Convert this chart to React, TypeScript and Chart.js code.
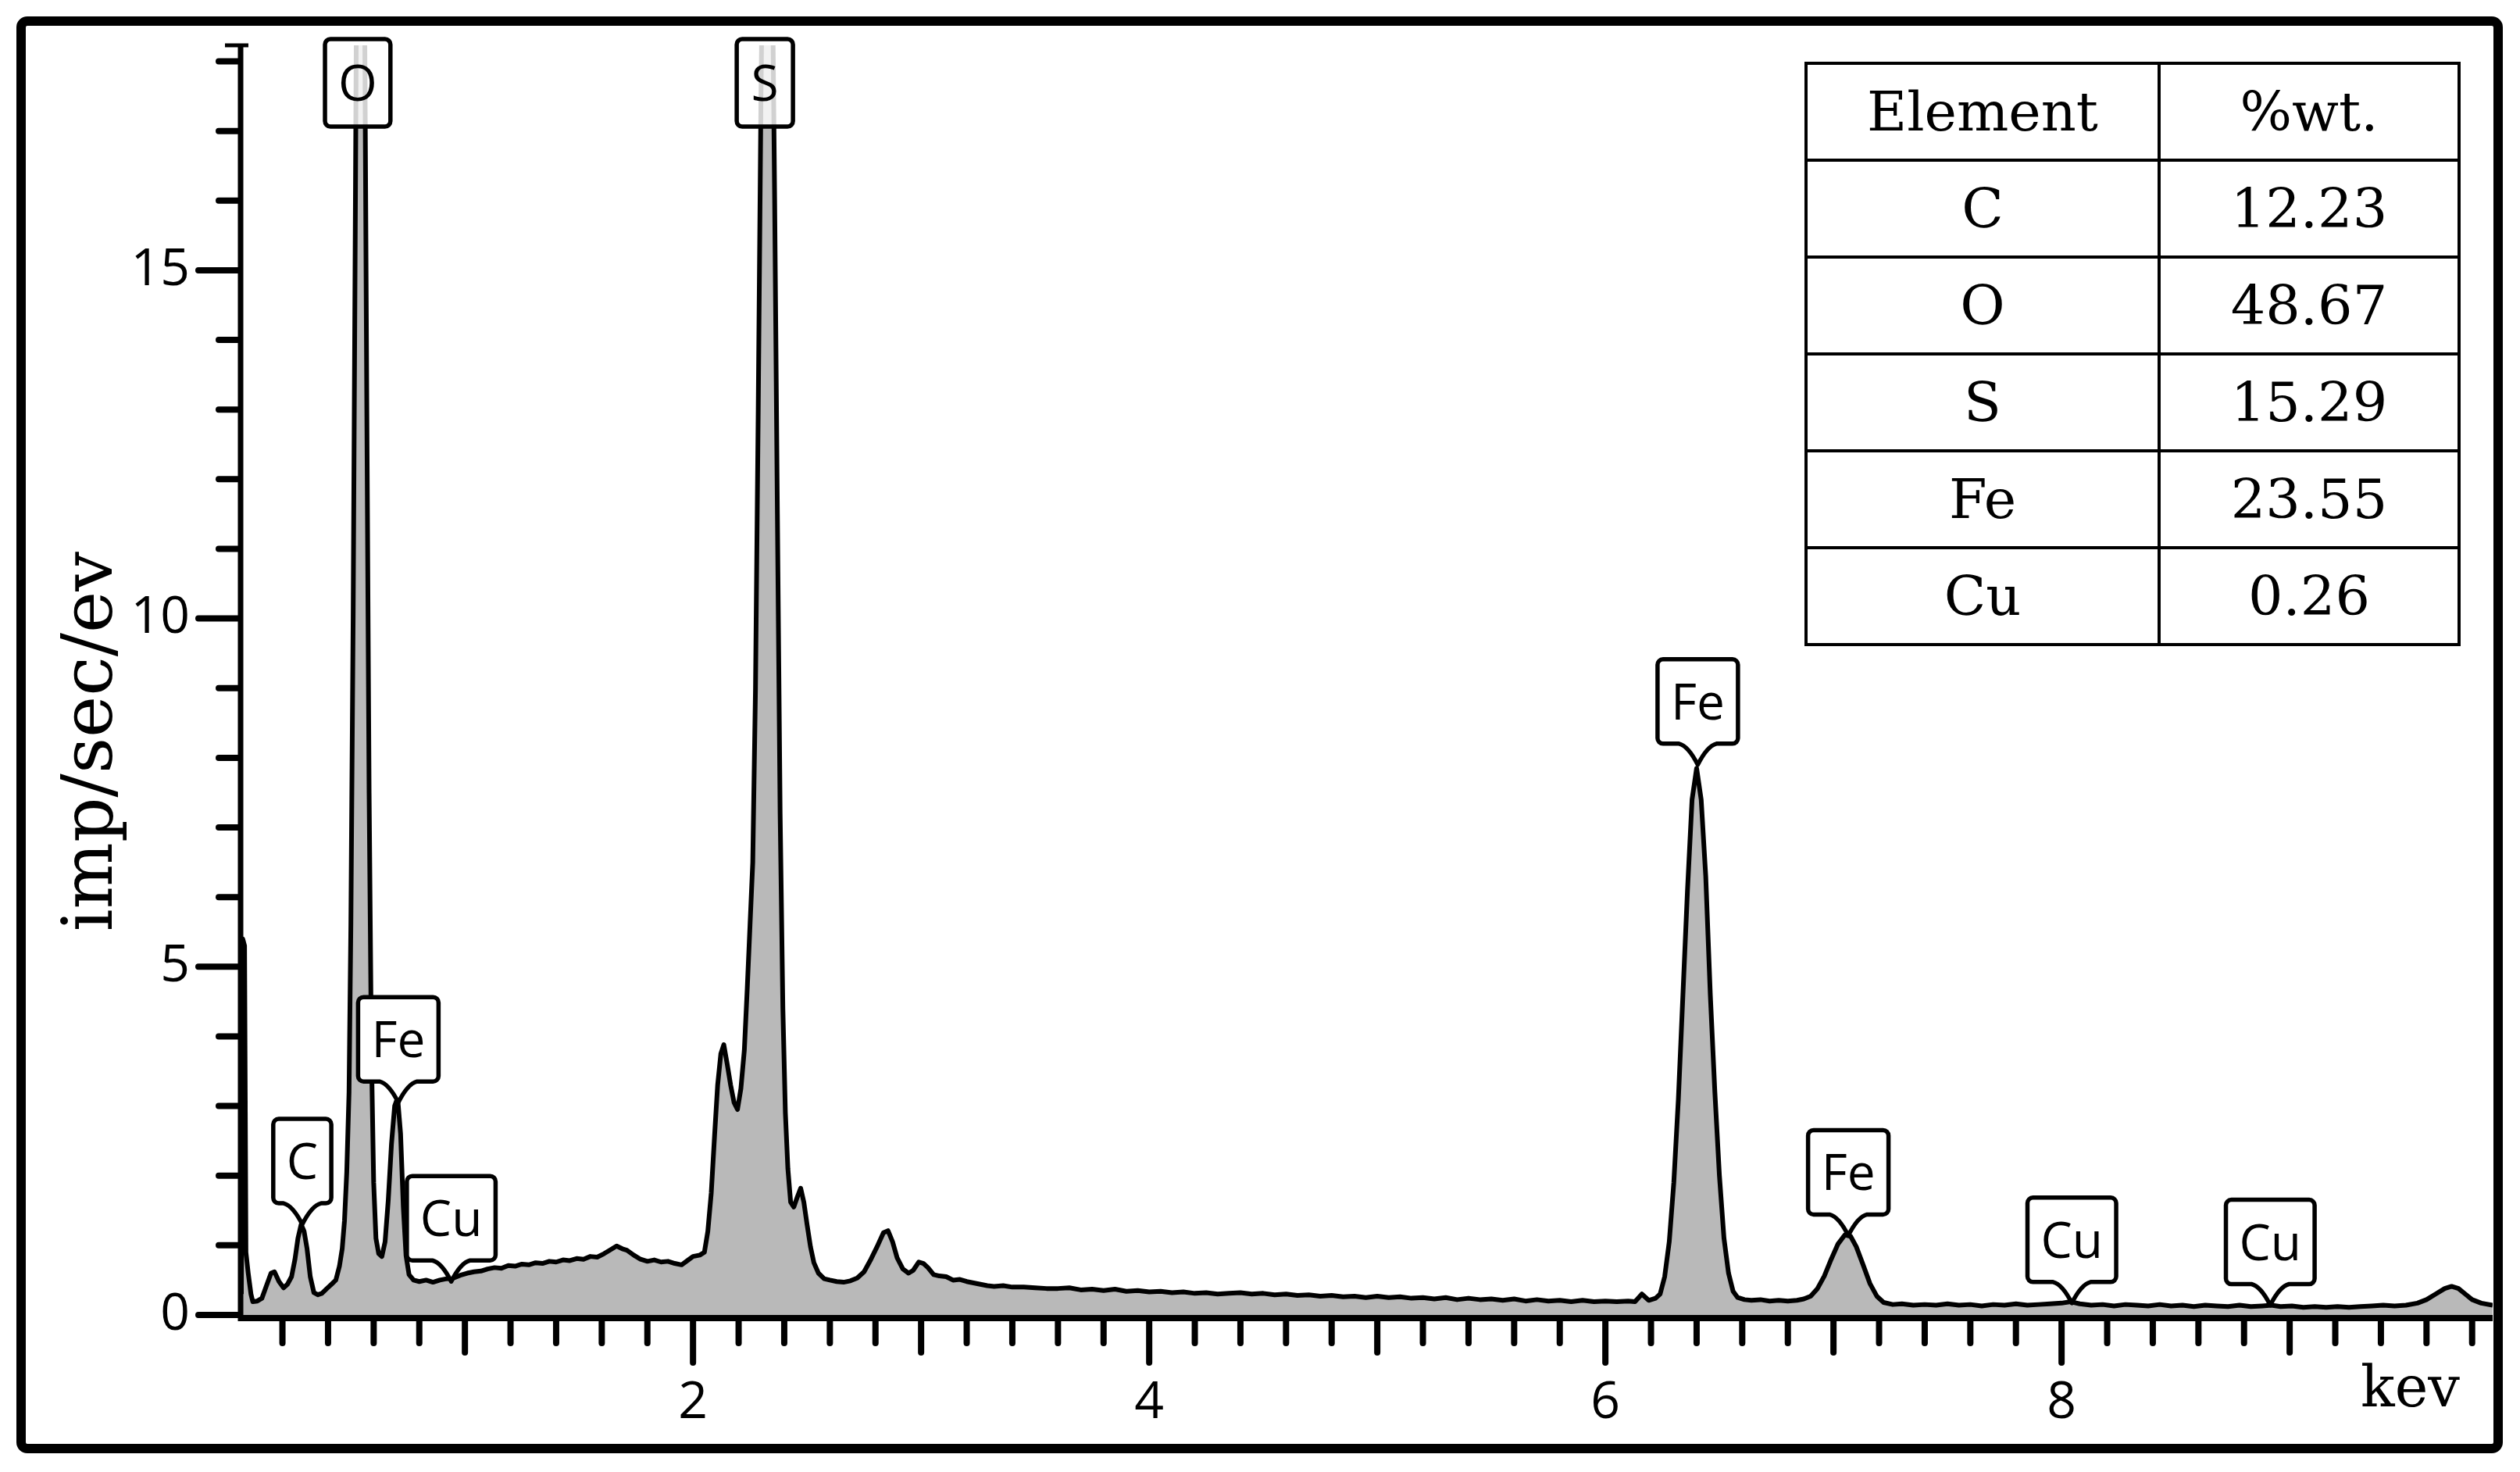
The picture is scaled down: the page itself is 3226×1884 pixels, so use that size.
import React, { useEffect, useRef } from 'react';
import { Chart, registerables } from 'chart.js';

Chart.register(...registerables);

// ---------------- data ----------------
// EDS spectrum: energy (keV) and intensity (imp/sec/ev)
const energyKeV = [
  0.020, 0.026, 0.034, 0.040, 0.050, 0.062, 0.070, 0.090, 0.110, 0.130,
  0.150, 0.165, 0.185, 0.205, 0.222, 0.240, 0.255, 0.268, 0.282, 0.295,
  0.308, 0.322, 0.338, 0.355, 0.373, 0.395, 0.415, 0.434, 0.450, 0.462,
  0.472, 0.482, 0.492, 0.500, 0.510, 0.520, 0.530, 0.540, 0.550, 0.560,
  0.570, 0.580, 0.590, 0.600, 0.610, 0.622, 0.636, 0.650, 0.664, 0.678,
  0.692, 0.705, 0.718, 0.730, 0.742, 0.755, 0.775, 0.800, 0.830, 0.860,
  0.890, 0.920, 0.950, 0.980, 1.010, 1.040, 1.070, 1.100, 1.130, 1.160,
  1.190, 1.220, 1.250, 1.280, 1.310, 1.340, 1.370, 1.400, 1.430, 1.460,
  1.490, 1.520, 1.550, 1.580, 1.610, 1.640, 1.665, 1.690, 1.710, 1.740,
  1.770, 1.800, 1.830, 1.860, 1.890, 1.920, 1.950, 1.975, 2.000, 2.030,
  2.050, 2.065, 2.080, 2.095, 2.108, 2.122, 2.135, 2.150, 2.165, 2.180,
  2.195, 2.210, 2.225, 2.238, 2.250, 2.262, 2.274, 2.286, 2.298, 2.310,
  2.322, 2.334, 2.346, 2.358, 2.370, 2.382, 2.394, 2.405, 2.416, 2.428,
  2.442, 2.458, 2.472, 2.486, 2.500, 2.515, 2.530, 2.550, 2.575, 2.600,
  2.630, 2.660, 2.690, 2.720, 2.750, 2.780, 2.810, 2.835, 2.855, 2.875,
  2.895, 2.920, 2.945, 2.965, 2.990, 3.010, 3.030, 3.055, 3.080, 3.110,
  3.140, 3.170, 3.200, 3.230, 3.260, 3.290, 3.320, 3.360, 3.400, 3.450,
  3.500, 3.550, 3.600, 3.650, 3.700, 3.750, 3.800, 3.850, 3.900, 3.950,
  4.000, 4.050, 4.100, 4.150, 4.200, 4.250, 4.300, 4.350, 4.400, 4.450,
  4.500, 4.550, 4.600, 4.650, 4.700, 4.750, 4.800, 4.850, 4.900, 4.950,
  5.000, 5.050, 5.100, 5.150, 5.200, 5.250, 5.300, 5.350, 5.400, 5.450,
  5.500, 5.550, 5.600, 5.650, 5.700, 5.750, 5.800, 5.850, 5.900, 5.950,
  6.000, 6.050, 6.100, 6.130, 6.160, 6.190, 6.220, 6.240, 6.260, 6.280,
  6.300, 6.320, 6.340, 6.360, 6.380, 6.400, 6.420, 6.440, 6.460, 6.480,
  6.500, 6.520, 6.540, 6.560, 6.580, 6.610, 6.640, 6.680, 6.720, 6.760,
  6.800, 6.840, 6.870, 6.900, 6.930, 6.960, 6.990, 7.020, 7.050, 7.075,
  7.100, 7.130, 7.160, 7.190, 7.220, 7.260, 7.300, 7.350, 7.400, 7.450,
  7.500, 7.550, 7.600, 7.650, 7.700, 7.750, 7.800, 7.850, 7.900, 7.950,
  8.000, 8.040, 8.080, 8.130, 8.180, 8.230, 8.280, 8.330, 8.380, 8.430,
  8.480, 8.530, 8.580, 8.630, 8.680, 8.730, 8.780, 8.830, 8.880, 8.920,
  8.960, 9.010, 9.060, 9.110, 9.160, 9.210, 9.260, 9.310, 9.360, 9.410,
  9.460, 9.510, 9.560, 9.600, 9.640, 9.680, 9.710, 9.740, 9.770, 9.800,
  9.840, 9.890,
];

const intensity = [
  0.30, 5.40, 5.30, 0.90, 0.60, 0.30, 0.19, 0.20, 0.24, 0.42,
  0.60, 0.62, 0.48, 0.39, 0.44, 0.55, 0.80, 1.10, 1.30, 1.20,
  0.95, 0.55, 0.32, 0.29, 0.31, 0.38, 0.44, 0.50, 0.70, 0.95,
  1.35, 2.05, 3.20, 5.60, 10.0, 16.0, 22.5, 27.0, 25.0, 19.0,
  13.0, 7.50, 3.80, 1.90, 1.10, 0.88, 0.84, 1.05, 1.65, 2.45,
  3.00, 3.12, 2.60, 1.55, 0.85, 0.58, 0.50, 0.48, 0.50, 0.47,
  0.50, 0.52, 0.53, 0.57, 0.60, 0.62, 0.63, 0.66, 0.68, 0.67,
  0.71, 0.70, 0.73, 0.72, 0.75, 0.74, 0.77, 0.76, 0.79, 0.78,
  0.81, 0.80, 0.84, 0.83, 0.88, 0.94, 0.99, 0.95, 0.93, 0.86,
  0.80, 0.77, 0.79, 0.76, 0.77, 0.74, 0.72, 0.78, 0.84, 0.86,
  0.90, 1.20, 1.75, 2.60, 3.30, 3.75, 3.88, 3.60, 3.30, 3.05,
  2.95, 3.25, 3.80, 4.70, 5.60, 6.50, 9.00, 13.0, 17.5, 21.0,
  23.0, 22.5, 20.0, 16.0, 11.5, 7.20, 4.40, 2.90, 2.10, 1.62,
  1.55, 1.70, 1.82, 1.62, 1.30, 0.98, 0.75, 0.60, 0.52, 0.50,
  0.48, 0.47, 0.49, 0.53, 0.62, 0.80, 1.00, 1.18, 1.21, 1.05,
  0.82, 0.66, 0.60, 0.64, 0.76, 0.74, 0.68, 0.58, 0.56, 0.55,
  0.50, 0.51, 0.48, 0.46, 0.44, 0.42, 0.41, 0.42, 0.40, 0.40,
  0.39, 0.38, 0.38, 0.39, 0.36, 0.37, 0.35, 0.37, 0.34, 0.35,
  0.33, 0.34, 0.32, 0.33, 0.31, 0.32, 0.30, 0.31, 0.32, 0.30,
  0.31, 0.29, 0.30, 0.28, 0.29, 0.27, 0.28, 0.26, 0.27, 0.25,
  0.27, 0.25, 0.26, 0.24, 0.25, 0.23, 0.25, 0.22, 0.24, 0.22,
  0.23, 0.21, 0.23, 0.20, 0.22, 0.20, 0.21, 0.19, 0.21, 0.19,
  0.20, 0.19, 0.20, 0.19, 0.30, 0.21, 0.24, 0.30, 0.55, 1.05,
  1.90, 3.10, 4.60, 6.10, 7.40, 7.85, 7.40, 6.30, 4.60, 3.20,
  2.00, 1.10, 0.60, 0.34, 0.25, 0.22, 0.21, 0.22, 0.20, 0.21,
  0.20, 0.21, 0.23, 0.27, 0.38, 0.56, 0.80, 1.02, 1.15, 1.13,
  0.98, 0.72, 0.45, 0.27, 0.18, 0.15, 0.16, 0.14, 0.15, 0.14,
  0.16, 0.14, 0.15, 0.13, 0.15, 0.14, 0.16, 0.14, 0.15, 0.16,
  0.17, 0.19, 0.16, 0.14, 0.15, 0.13, 0.15, 0.14, 0.13, 0.15,
  0.13, 0.14, 0.12, 0.14, 0.13, 0.12, 0.14, 0.12, 0.13, 0.14,
  0.12, 0.13, 0.11, 0.12, 0.11, 0.12, 0.11, 0.12, 0.13, 0.14,
  0.13, 0.14, 0.17, 0.22, 0.30, 0.38, 0.41, 0.38, 0.30, 0.22,
  0.17, 0.14,
];

// axes
const xMin = 0.02;
const xMax = 9.89;
const yMin = 0;
const yMax = 18.23;
const xTickValues = [2, 4, 6, 8];
const yTickValues = [0, 5, 10, 15];
const xMinorStep = 0.2;
const yMinorStep = 1;
const yAxisTitle = 'imp/sec/ev';
const xAxisUnit = 'kev';

// peak labels (null tip = peak runs off the top, label sits at the top)
const peakNames = ['C', 'O', 'Fe', 'Cu', 'S', 'Fe', 'Fe', 'Cu', 'Cu'];
const peakEnergies = [0.287, 0.53, 0.708, 0.94, 2.315, 6.405, 7.065, 8.045, 8.915];
const peakTips: (number | null)[] = [1.3, null, 3.05, 0.48, null, 7.9, 1.14, 0.17, 0.14];

// composition table
const tableHeader = ['Element', '%wt.'];
const tableElements = ['C', 'O', 'S', 'Fe', 'Cu'];
const tableWeights = [12.23, 48.67, 15.29, 23.55, 0.26];

// ---------------- styling ----------------
const W = 3226;
const H = 1884;
const SANS = '"Open Sans", "DejaVu Sans", sans-serif';
const SERIF = '"DejaVu Serif", "Liberation Serif", serif';

const spectrumPoints = energyKeV.map((e, i) => ({ x: e, y: intensity[i] }));

function calloutPath(ctx: CanvasRenderingContext2D, left: number, top: number, right: number, bottom: number, cx: number, tipY: number | null) {
  const r = 7;
  ctx.beginPath();
  ctx.moveTo(left + r, top);
  ctx.lineTo(right - r, top);
  ctx.arcTo(right, top, right, top + r, r);
  ctx.lineTo(right, bottom - r);
  ctx.arcTo(right, bottom, right - r, bottom, r);
  if (tipY !== null) {
    ctx.lineTo(cx + 24, bottom);
    ctx.quadraticCurveTo(cx + 12, bottom + 3, cx, tipY);
    ctx.quadraticCurveTo(cx - 12, bottom + 3, cx - 24, bottom);
  }
  ctx.lineTo(left + r, bottom);
  ctx.arcTo(left, bottom, left, bottom - r, r);
  ctx.lineTo(left, top + r);
  ctx.arcTo(left, top, left + r, top, r);
  ctx.closePath();
}

const calloutPlugin = {
  id: 'peakCallouts',
  afterDatasetsDraw(chart: any) {
    const { ctx, chartArea } = chart;
    const xs = chart.scales.x;
    const ys = chart.scales.y;
    ctx.save();
    ctx.font = `64px ${SANS}`;
    ctx.lineJoin = 'round';
    for (let i = 0; i < peakNames.length; i++) {
      const name = peakNames[i];
      const cx = xs.getPixelForValue(peakEnergies[i]);
      const tw = ctx.measureText(name).width;
      const w = Math.max(tw + 34, 72);
      const left = cx - w / 2;
      const right = cx + w / 2;
      const tip = peakTips[i];
      let top: number;
      let bottom: number;
      let tipY: number | null = null;
      if (tip === null) {
        top = chartArea.top - 8;
        bottom = top + 112;
        calloutPath(ctx, left, top, right, bottom, cx, null);
        ctx.fillStyle = 'rgba(255,255,255,0.82)';
      } else {
        tipY = ys.getPixelForValue(tip);
        bottom = tipY - 27;
        top = bottom - 108;
        calloutPath(ctx, left, top, right, bottom, cx, tipY);
        ctx.fillStyle = '#ffffff';
      }
      ctx.fill();
      ctx.lineWidth = 5.5;
      ctx.strokeStyle = '#000';
      ctx.stroke();
      ctx.fillStyle = '#000';
      ctx.textAlign = 'center';
      ctx.textBaseline = 'alphabetic';
      ctx.fillText(name, cx, (top + bottom) / 2 + 23);
    }
    ctx.restore();
  },
};

const axesPlugin = {
  id: 'edsAxes',
  afterDraw(chart: any) {
    const { ctx, chartArea } = chart;
    const xs = chart.scales.x;
    const ys = chart.scales.y;
    const axisX = 308;
    const axisY = chartArea.bottom + 4;
    ctx.save();
    ctx.strokeStyle = '#000';
    ctx.lineCap = 'butt';

    // y axis line + top cap
    ctx.lineWidth = 7;
    ctx.beginPath();
    ctx.moveTo(axisX, chartArea.top - 2);
    ctx.lineTo(axisX, axisY + 4);
    ctx.stroke();
    ctx.lineWidth = 5;
    ctx.beginPath();
    ctx.moveTo(axisX - 20, chartArea.top);
    ctx.lineTo(axisX + 10, chartArea.top);
    ctx.stroke();

    // x axis line
    ctx.lineWidth = 8;
    ctx.beginPath();
    ctx.moveTo(axisX - 3, axisY);
    ctx.lineTo(chartArea.right, axisY);
    ctx.stroke();

    // x ticks
    ctx.lineWidth = 8;
    ctx.lineCap = 'round';
    const nX = Math.floor((xMax + 1e-9) / xMinorStep);
    for (let i = 1; i <= nX; i++) {
      const v = i * xMinorStep;
      const px = xs.getPixelForValue(v);
      const k = Math.round(v * 10);
      let len = 32;
      if (k % 20 === 0) len = 57;
      else if (k % 10 === 0) len = 44;
      ctx.beginPath();
      ctx.moveTo(px, axisY + 3);
      ctx.lineTo(px, axisY + len);
      ctx.stroke();
    }
    // y ticks
    const nY = Math.floor((yMax + 1e-9) / yMinorStep);
    for (let i = 0; i <= nY; i++) {
      const v = i * yMinorStep;
      const py = ys.getPixelForValue(v);
      const len = i % 5 === 0 ? 54 : 28;
      ctx.beginPath();
      ctx.moveTo(axisX - 3, py);
      ctx.lineTo(axisX - len, py);
      ctx.stroke();
    }

    // axis titles
    ctx.fillStyle = '#000';
    ctx.font = `90px ${SERIF}`;
    ctx.textAlign = 'center';
    ctx.textBaseline = 'alphabetic';
    ctx.save();
    ctx.translate(143, 949);
    ctx.rotate(-Math.PI / 2);
    ctx.fillText(yAxisTitle, 0, 0);
    ctx.restore();
    ctx.font = `72px ${SERIF}`;
    ctx.textAlign = 'left';
    ctx.fillText(xAxisUnit, 3022, 1800);

    // outer frame
    ctx.lineWidth = 12;
    ctx.lineCap = 'butt';
    ctx.lineJoin = 'round';
    ctx.beginPath();
    const fx = 27, fy = 27, fw = 3171, fh = 1827, r = 8;
    ctx.moveTo(fx + r, fy);
    ctx.arcTo(fx + fw, fy, fx + fw, fy + fh, r);
    ctx.arcTo(fx + fw, fy + fh, fx, fy + fh, r);
    ctx.arcTo(fx, fy + fh, fx, fy, r);
    ctx.arcTo(fx, fy, fx + fw, fy, r);
    ctx.closePath();
    ctx.stroke();
    ctx.restore();
  },
};

function EdsChart() {
  const canvasRef = useRef<HTMLCanvasElement | null>(null);

  useEffect(() => {
    const canvas = canvasRef.current;
    if (!canvas) return;
    const chart = new Chart(canvas, {
      type: 'line',
      data: {
        datasets: [
          {
            label: 'EDS spectrum',
            data: spectrumPoints,
            borderColor: '#000000',
            borderWidth: 6,
            backgroundColor: '#b9b9b9',
            fill: 'origin',
            pointRadius: 0,
            tension: 0,
            borderJoinStyle: 'round',
          },
        ],
      },
      options: {
        responsive: false,
        animation: false,
        devicePixelRatio: 1,
        events: [],
        layout: { padding: { left: 0, top: 58, right: 35, bottom: 0 } },
        plugins: {
          legend: { display: false },
          tooltip: { enabled: false },
        },
        scales: {
          x: {
            type: 'linear',
            min: xMin,
            max: xMax,
            grid: { display: false, drawTicks: false },
            border: { display: false },
            afterBuildTicks: (s: any) => {
              s.ticks = xTickValues.map((v) => ({ value: v }));
            },
            afterFit: (s: any) => {
              s.height = 201;
              s.paddingLeft = 0;
              s.paddingRight = 0;
            },
            ticks: {
              color: '#000',
              font: { family: SANS, size: 66 },
              padding: 74,
              maxRotation: 0,
              autoSkip: false,
              callback: (v: any) => String(v),
            },
          },
          y: {
            type: 'linear',
            min: yMin,
            max: yMax,
            grid: { display: false, drawTicks: false },
            border: { display: false },
            afterBuildTicks: (s: any) => {
              s.ticks = yTickValues.map((v) => ({ value: v }));
            },
            afterFit: (s: any) => {
              s.width = 309;
              s.paddingTop = 0;
              s.paddingBottom = 0;
            },
            ticks: {
              color: '#000',
              font: { family: SANS, size: 66 },
              padding: 66,
              autoSkip: false,
              callback: (v: any) => String(v),
            },
          },
        },
      },
      plugins: [calloutPlugin, axesPlugin],
    } as any);
    return () => chart.destroy();
  }, []);

  return (
    <canvas
      ref={canvasRef}
      width={W}
      height={H}
      style={{ position: 'absolute', left: 0, top: 0, width: W, height: H, display: 'block' }}
    />
  );
}

function CompositionTable() {
  const cell: React.CSSProperties = {
    border: '4px solid #000',
    height: 120,
    padding: 0,
    textAlign: 'center',
    verticalAlign: 'middle',
    lineHeight: 1,
  };
  return (
    <table
      style={{
        position: 'absolute',
        left: 2310,
        top: 79,
        borderCollapse: 'collapse',
        tableLayout: 'fixed',
        width: 836,
        fontFamily: SERIF,
        fontSize: 70,
        color: '#000',
        background: '#fff',
      }}
    >
      <colgroup>
        <col style={{ width: 452 }} />
        <col style={{ width: 384 }} />
      </colgroup>
      <tbody>
        <tr>
          <td style={cell}>{tableHeader[0]}</td>
          <td style={cell}>{tableHeader[1]}</td>
        </tr>
        {tableElements.map((el, i) => (
          <tr key={el}>
            <td style={cell}>{el}</td>
            <td style={cell}>{tableWeights[i].toFixed(2)}</td>
          </tr>
        ))}
      </tbody>
    </table>
  );
}

export default function App() {
  return (
    <div style={{ position: 'absolute', left: 0, top: 0, width: W, height: H, background: '#fff', overflow: 'hidden' }}>
      <EdsChart />
      <CompositionTable />
    </div>
  );
}
